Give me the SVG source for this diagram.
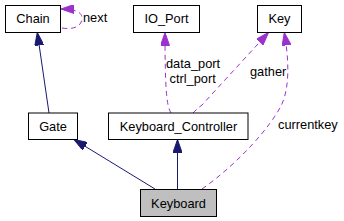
<svg xmlns="http://www.w3.org/2000/svg" width="344" height="221" viewBox="0 0 344 221">
<style>
.box{fill:#ffffff;stroke:#000000;stroke-width:1}
.cur{fill:#bfbfbf;stroke:#000000;stroke-width:1}
text{font-family:"Liberation Sans",Arial,sans-serif;font-size:12.8px;fill:#000000}
.lbl{text-anchor:middle}
.inh{fill:none;stroke:#191970;stroke-width:1}
.use{fill:none;stroke:#9a32cd;stroke-width:1;stroke-dasharray:5,4}
</style>
<defs>
<marker id="ah-navy" viewBox="0 0 13 9" refX="13" refY="4.5" markerWidth="13" markerHeight="9" markerUnits="userSpaceOnUse" orient="auto">
<path d="M0,0 L13,4.5 L0,9 z" fill="#191970" stroke="#191970" stroke-width="1"/>
</marker>
<marker id="ah-purple" viewBox="0 0 13 9" refX="13" refY="4.5" markerWidth="13" markerHeight="9" markerUnits="userSpaceOnUse" orient="auto">
<path d="M0,0 L13,4.5 L0,9 z" fill="#9a32cd" stroke="#9a32cd" stroke-width="1"/>
</marker>
</defs>
<g id="connectors">
<path class="inh" d="M155,189 L74,139.5" marker-end="url(#ah-navy)"/>
<path class="inh" d="M177.5,189 L177.5,139.5" marker-end="url(#ah-navy)"/>
<path class="inh" d="M49,113 L37.3,32.5" marker-end="url(#ah-navy)"/>
<path class="use" d="M62,28 C74,30 82,26 82,18 C82,12 75,9 61,9" marker-end="url(#ah-purple)"/>
<path class="use" d="M171,113 C167,106 165,95 165,32.5" marker-end="url(#ah-purple)"/>
<path class="use" d="M193,113 C196,110 198,108 202,105 L268.5,32.5" marker-end="url(#ah-purple)"/>
<path class="use" d="M202,189 C240,162 270,127 281,106 C290,88 289,60 284.3,32.5" marker-end="url(#ah-purple)"/>
<text x="83" y="22">next</text>
<text x="166" y="67.5">data_port</text>
<text x="169.5" y="83">ctrl_port</text>
<text x="250" y="75.5">gather</text>
<text x="278" y="128.5">currentkey</text>
</g>
<g id="node-chain">
<rect class="box" x="5.5" y="5.5" width="55" height="27"/>
<text class="lbl" x="33" y="23">Chain</text>
</g>
<g id="node-ioport">
<rect class="box" x="133.5" y="5.5" width="66" height="27"/>
<text class="lbl" x="166.5" y="23">IO_Port</text>
</g>
<g id="node-key">
<rect class="box" x="257.5" y="5.5" width="44" height="27"/>
<text class="lbl" x="279.5" y="23">Key</text>
</g>
<g id="node-gate">
<rect class="box" x="28.5" y="113" width="49" height="26.5"/>
<text class="lbl" x="53" y="131">Gate</text>
</g>
<g id="node-keyboard-controller">
<rect class="box" x="108.5" y="113" width="139.5" height="26.5"/>
<text class="lbl" x="178.5" y="131">Keyboard_Controller</text>
</g>
<g id="node-keyboard">
<rect class="cur" x="140.5" y="189.5" width="76" height="27"/>
<text class="lbl" x="178.5" y="207.5">Keyboard</text>
</g>
</svg>
